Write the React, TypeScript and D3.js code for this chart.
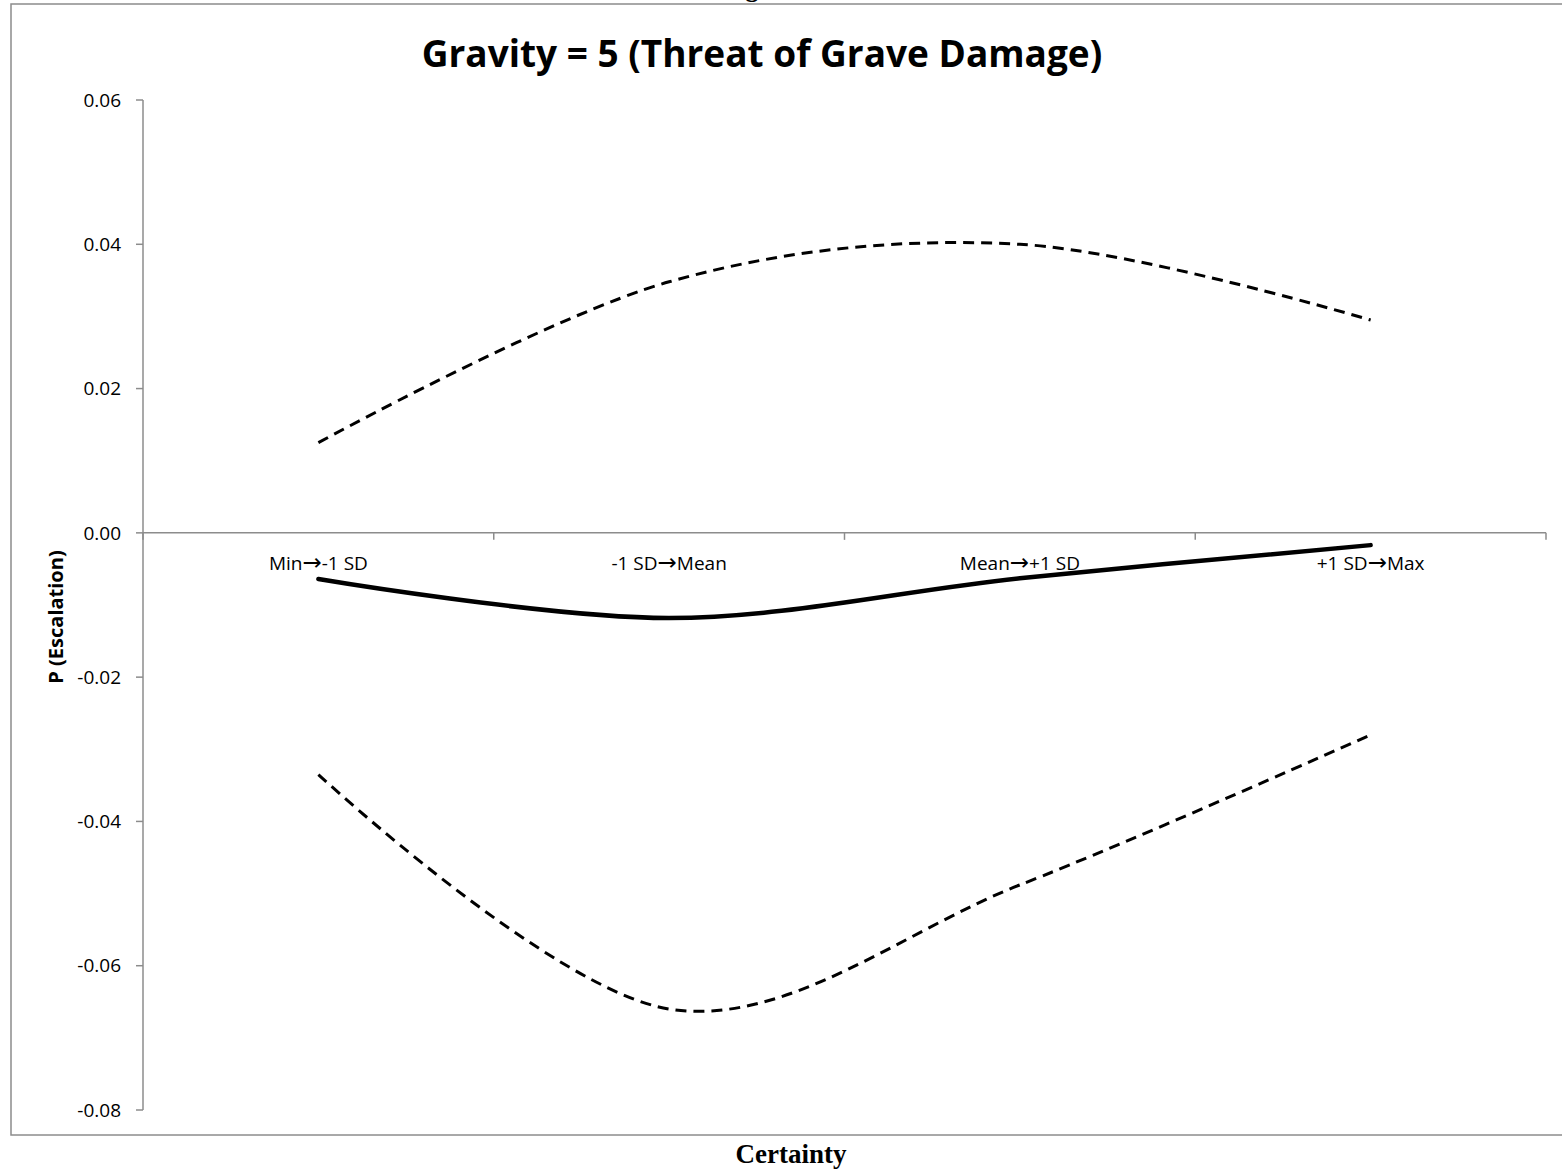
import React from "react";
import * as d3 from "d3";

const categories = ["Min\u2192-1 SD", "-1 SD\u2192Mean", "Mean\u2192+1 SD", "+1 SD\u2192Max"];
const estimate = [-0.0064, -0.0118, -0.0063, -0.0017];
const upper = [0.0125, 0.0348, 0.0400, 0.0295];
const lower = [-0.0335, -0.066, -0.0488, -0.028];
const yTicks = [0.06, 0.04, 0.02, 0.0, -0.02, -0.04, -0.06, -0.08];
const title = "Gravity = 5 (Threat of Grave Damage)";
const yTitle = "P (Escalation)";
const xTitle = "Certainty";

export default function App() {
  const W = 1562, H = 1173;
  const x0 = 143, x1 = 1546;
  const y = d3.scaleLinear().domain([-0.08, 0.06]).range([1110, 100]);
  const xb = d3.scaleBand().domain(categories).range([x0, x1]).paddingInner(0).paddingOuter(0);
  const xc = (i: number) => (xb(categories[i]) as number) + xb.bandwidth() / 2;
  const line = d3.line<number>().x((_, i) => xc(i)).y((d) => y(d)).curve(d3.curveCardinal.tension(0));
  const y0 = y(0);
  const font = "'Open Sans', sans-serif";
  const bounds = [0, 1, 2, 3, 4].map((i) => x0 + i * xb.bandwidth());
  const fmt = (t: number) => d3.format(".2f")(t).replace("\u2212", "-");
  const renderCat = (c: string) => {
    const parts = c.split("\u2192");
    return (
      <>
        {parts[0]}
        <tspan fontFamily="'DejaVu Sans', sans-serif" fontSize={23}>{"\u2192"}</tspan>
        {parts[1]}
      </>
    );
  };
  return (
    <svg width={W} height={H} style={{ position: "absolute", left: 0, top: 0, background: "#fff" }}>
      <rect x={11} y={4} width={1600} height={1131} fill="#fff" stroke="#8c8c8c" strokeWidth={1.5} />
      <text x={752} y={-3} fontFamily="'Liberation Serif', serif" fontSize={26} fontWeight="bold" textAnchor="middle">g</text>
      <text x={762} y={67} fontFamily={font} fontSize={37} fontWeight="bold" textAnchor="middle">{title}</text>
      {/* y axis */}
      <line x1={x0} x2={x0} y1={y(0.06)} y2={y(-0.08)} stroke="#8c8c8c" strokeWidth={1.5} />
      {yTicks.map((t) => (
        <g key={t}>
          <line x1={x0 - 7} x2={x0} y1={y(t)} y2={y(t)} stroke="#8c8c8c" strokeWidth={1.5} />
          <text x={121} y={y(t)} dy="0.35em" fontFamily={font} fontSize={19} textAnchor="end">{fmt(t)}</text>
        </g>
      ))}
      {/* x axis at zero */}
      <line x1={x0} x2={x1} y1={y0} y2={y0} stroke="#8c8c8c" strokeWidth={1.5} />
      {bounds.map((b, i) => (
        <line key={i} x1={b} x2={b} y1={y0} y2={y0 + 7} stroke="#8c8c8c" strokeWidth={1.5} />
      ))}
      {categories.map((c, i) => (
        <text key={c} x={xc(i)} y={570} fontFamily={font} fontSize={19} textAnchor="middle">{renderCat(c)}</text>
      ))}
      <text transform={`translate(63,617) rotate(-90)`} fontFamily={font} fontSize={20} fontWeight="bold" textAnchor="middle">{yTitle}</text>
      <path d={line(upper) as string} fill="none" stroke="#000" strokeWidth={3} strokeDasharray="11,7" />
      <path d={line(lower) as string} fill="none" stroke="#000" strokeWidth={3} strokeDasharray="11,7" />
      <path d={line(estimate) as string} fill="none" stroke="#000" strokeWidth={4.5} strokeLinecap="round" />
      <text x={791} y={1163} fontFamily="'Liberation Serif', serif" fontSize={27} fontWeight="bold" textAnchor="middle">{xTitle}</text>
    </svg>
  );
}
